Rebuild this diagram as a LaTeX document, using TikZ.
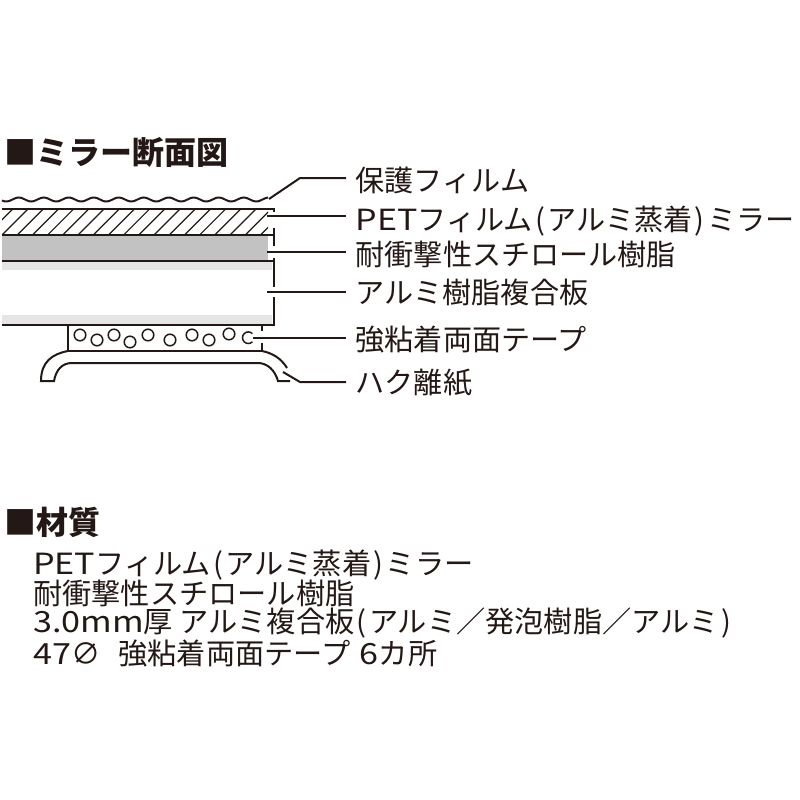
\documentclass[tikz,border=0pt]{standalone}
\usepackage{fontspec}
\setmainfont{Noto Sans CJK JP}
\usetikzlibrary{calc}
\definecolor{inkdark}{HTML}{231815}
\newcommand{\wide}[1]{\scalebox{1.17}[1]{#1}}
\newcommand{\lpar}{\hspace{.08em}(\hspace{.08em}}
\newcommand{\rpar}{\hspace{.08em})\hspace{.08em}}
\tikzset{
  lbl/.style={anchor=west,inner ysep=0pt,inner xsep=9.5pt,text height=26pt,text depth=0pt,text=inkdark,font=\fontsize{29.1}{30}\selectfont},
  head/.style={anchor=west,inner sep=0pt,text=inkdark,font=\fontsize{32}{33}\bfseries\selectfont},
  body/.style={anchor=west,inner sep=0pt,text=inkdark,font=\fontsize{29.2}{30}\selectfont},
  ink/.style={draw=inkdark,line width=2pt},
  thin ink/.style={draw=inkdark,line width=1.5pt}
}
\begin{document}
\begin{tikzpicture}[x=1pt,y=-1pt]
  \useasboundingbox (0,0) rectangle (800,800);

  \node[head] (title) at (4,152) {■ミラー断面図};
  \node[head] (material) at (4,522) {■材質};

  % layers
  \fill[black!24] (2,236) rectangle (268,260);
  \fill[black!10] (2,262) rectangle (272,270);
  \fill[black!10] (2,315) rectangle (272,324);
  \begin{scope}
    \clip (2,209) rectangle (268,235);
    \foreach \i in {-2,...,18}
      \draw[draw=inkdark,line width=1.2pt] (\i*15.2+2,235) -- ++(26,-26);
  \end{scope}

  \draw[ink] (2,209) -- (275,209);
  \draw[ink] (2,235) -- (275,235);
  \draw[ink] (2,261) -- (275,261);
  \draw[ink] (2,325) -- (275,325);
  \draw[ink] (274,209) -- (274,212) (274,228) -- (274,246)
    (274,258) -- (274,287) (274,297) -- (274,325);

  % leaders
  \node[lbl] (film) at (346,178.7) {保護フィルム};
  \node[lbl] (pet) at (346,217) {\wide{PET}フィルム\lpar アルミ蒸着\rpar ミラー};
  \node[lbl] (styrol) at (346,252) {耐衝撃性スチロール樹脂};
  \node[lbl] (alu) at (346,290) {アルミ樹脂複合板};
  \node[lbl] (tape) at (346,337) {強粘着両面テープ};
  \node[lbl] (paper) at (346,380) {ハク離紙};

  \draw[ink,smooth] plot[domain=2:268,samples=110] (\x,{199.5+2*sin(14.4*\x)});
  \coordinate (filmend) at (269,199);
  \coordinate (filmbend) at (300,178);
  \coordinate (petend) at (267,216);
  \coordinate (styrolend) at (267,252);
  \coordinate (aluend) at (267,292);
  \coordinate (tapeend) at (253,338);
  \coordinate (paperend) at (283,372);
  \coordinate (paperbend) at (300,382);
  \draw[ink] (filmend) -- (filmbend) -- (filmbend -| film.west);
  \draw[ink] (petend) -- (petend -| pet.west);
  \draw[ink] (styrolend) -- (styrolend -| styrol.west);
  \draw[ink] (aluend) -- (aluend -| alu.west);
  \draw[ink] (tapeend) -- (tapeend -| tape.west);
  \draw[ink] (paperend) -- (paperbend) -- (paperbend -| paper.west);

  % tape
  \draw[ink] (68,325) -- (68,351) -- (262,351);
  \draw[ink] (262,325) -- (262,331) (262,343) -- (262,351);
  \foreach \cx/\cy in {80/335,97/340,114/335,130/342,148/335,170/340,192/335,209/340,229/334}
    \draw[thin ink] (\cx,\cy) circle (5.8);
  \draw[thin ink] (252.4,341.8) arc (45:315:5.8);

  % release paper
  \draw[ink] (68,351) .. controls (52,354) and (41,362) .. (41,381) -- (54,381)
    .. controls (56,370) and (62,363) .. (72,363) -- (258,363)
    .. controls (267,363) and (275,370) .. (278,381) -- (290,381);
  \draw[ink] (262,351) .. controls (272,353) and (281,358) .. (287,368);

  % material
  \node[body] (line a) at (33,565) {\wide{PET}フィルム\lpar アルミ蒸着\rpar ミラー};
  \node[body] (line b) at (33,593) {耐衝撃性スチロール樹脂};
  \node[body] (line c) at (33,623) {\wide{3.0mm}厚 アルミ複合板\lpar アルミ／発泡樹脂／アルミ\rpar};
  \node[body] (line d) at (33,653) {\wide{47}∅\hspace{.4em} 強粘着両面テープ\hspace{.1em} \wide{6}カ所};
\end{tikzpicture}
\end{document}
